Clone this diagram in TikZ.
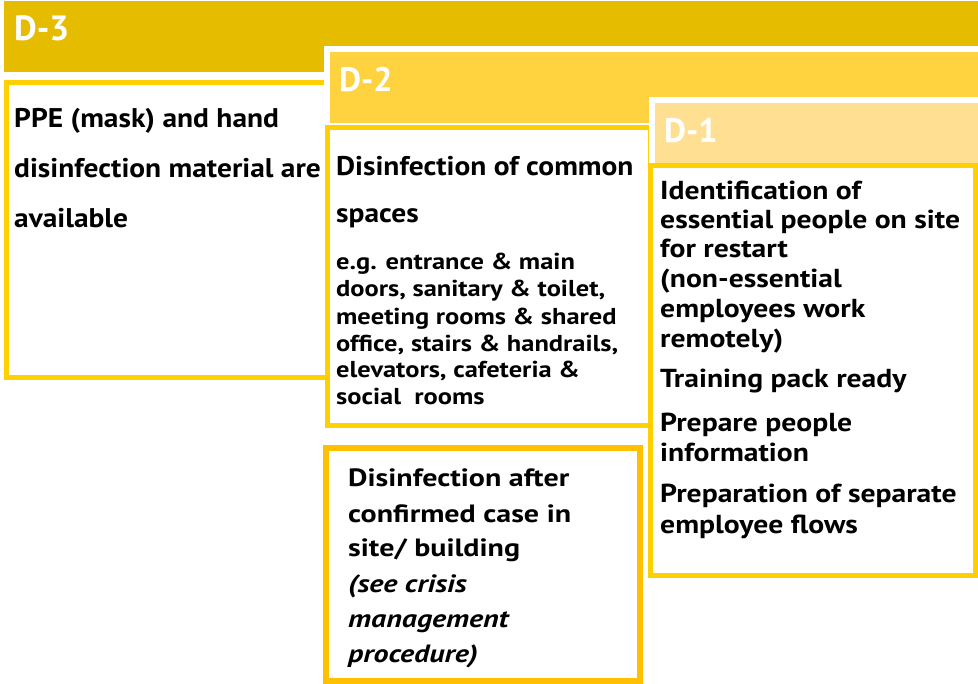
\documentclass[tikz,border=0pt]{standalone}
\usepackage{fontspec}
\setmainfont{PT Sans}
\newfontfamily\fontA{PT Sans}[FakeStretch=1.09]
\newfontfamily\fontB{PT Sans}[FakeStretch=1.15]
\newfontfamily\fontC{PT Sans}[FakeStretch=1.14]
\newfontfamily\fontD{PT Sans}[FakeStretch=1.2]
\definecolor{barA}{RGB}{230,188,0}
\definecolor{barB}{RGB}{255,210,63}
\definecolor{barC}{RGB}{255,223,145}
\definecolor{boxY}{RGB}{255,208,0}
\definecolor{boxO}{RGB}{255,192,0}
\tikzset{
  lbl/.style={anchor=base west, inner sep=0pt, text=white, font=\bfseries\fontsize{35}{35}\selectfont},
  big/.style={anchor=base west, inner sep=0pt, font=\fontA\bfseries\fontsize{27}{27}\selectfont},
  mid/.style={anchor=base west, inner sep=0pt, font=\fontC\bfseries\fontsize{26}{26}\selectfont},
  sml/.style={anchor=base west, inner sep=0pt, font=\fontB\bfseries\fontsize{23}{23}\selectfont},
  ext/.style={anchor=base west, inner sep=0pt, font=\fontD\bfseries\fontsize{25}{25}\selectfont},
  ital/.style={anchor=base west, inner sep=0pt, font=\fontD\bfseries\itshape\fontsize{25}{25}\selectfont},
  frame/.style={draw=boxY, line width=5pt, fill=white},
}
\begin{document}
\begin{tikzpicture}[x=1pt,y=-1pt]
\useasboundingbox[fill=white] (0,0) rectangle (978,684);
% D-3
\fill[barA] (4,1) rectangle (978,72);
\draw[frame] (6.5,82.5) rectangle (640,377.5);
\node[lbl] (d3) at (14,41) {D-3};
% D-2
\fill[white] (324,46) rectangle (978,128);
\fill[barB] (330,52) rectangle (978,123);
\draw[frame] (327.5,127.5) rectangle (650.5,425.5);
\node[lbl,font=\bfseries\fontsize{34}{34}\selectfont] (d2) at (339,92) {D-2};
% D-1
\fill[white] (649,97) rectangle (978,165);
\fill[barC] (655,103) rectangle (978,163);
\draw[frame] (650.5,165.5) rectangle (975.5,575.5);
\node[lbl,font=\bfseries\fontsize{34}{34}\selectfont] (d1) at (664,143) {D-1};
% extra box
\draw[draw=boxO, line width=6pt, fill=white] (326,448) rectangle (640,681);

% D-3 text
\node[big] (a1) at (14,128) {PPE (mask) and hand};
\node[big] (a2) at (14,178) {disinfection material are};
\node[big] (a3) at (14,228) {available};
% D-2 text
\node[big] (b1) at (336,176) {Disinfection of common};
\node[big] (b2) at (336,223) {spaces};
\node[sml] (c1) at (336,270) {e.g. entrance \& main};
\node[sml] (c2) at (336,297) {doors, sanitary \& toilet,};
\node[sml] (c3) at (336,325) {meeting rooms \& shared};
\node[sml] (c4) at (336,352) {office, stairs \& handrails,};
\node[sml] (c5) at (336,378) {elevators, cafeteria \&};
\node[sml] (c6) at (336,405) {social\ \ rooms};
% D-1 text
\node[mid] (e1) at (660,200) {Identification of};
\node[mid] (e2) at (660,229) {essential people on site};
\node[mid] (e3) at (660,258) {for restart};
\node[mid] (e4) at (660,288) {(non-essential};
\node[mid] (e5) at (660,318) {employees work};
\node[mid] (e6) at (660,348) {remotely)};
\node[mid] (e7) at (660,388) {Training pack ready};
\node[mid] (e8) at (660,432) {Prepare people};
\node[mid] (e9) at (660,462) {information};
\node[mid] (e10) at (660,503) {Preparation of separate};
\node[mid] (e11) at (660,533) {employee flows};
% extra text
\node[ext] (f1) at (348,487) {Disinfection after};
\node[ext] (f2) at (348,522) {confirmed case in};
\node[ext] (f3) at (348,557) {site/ building};
\node[ital] (g1) at (348,592) {(see crisis};
\node[ital] (g2) at (348,627) {management};
\node[ital] (g3) at (348,662) {procedure)};
\end{tikzpicture}
\end{document}
